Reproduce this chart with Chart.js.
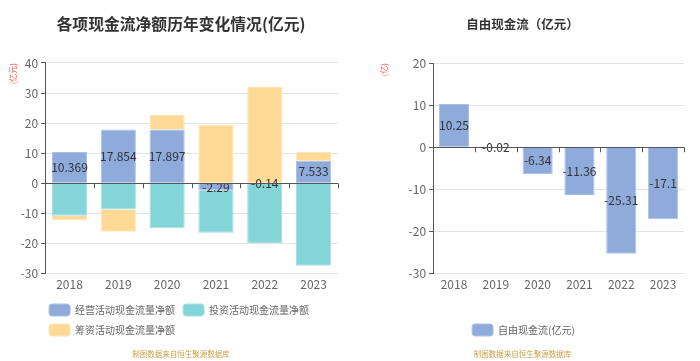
<!DOCTYPE html>
<html>
<head>
<meta charset="utf-8">
<script src="https://cdn.jsdelivr.net/npm/chart.js@4"></script>
<style>
  body { margin: 0; background: #fff; width: 700px; height: 361px; position: relative; overflow: hidden; }
  .box { position: absolute; top: 0; height: 361px; }
  #left { left: 0; width: 362px; }
  #right { left: 342px; width: 358px; }
</style>
</head>
<body>
<div class="box" id="left"><canvas id="c1"></canvas></div>
<div class="box" id="right"><canvas id="c2"></canvas></div>
<script>
const years = ['2018', '2019', '2020', '2021', '2022', '2023'];
const operating = [10.369, 17.854, 17.897, -2.29, -0.14, 7.533];
const investing = [-10.8, -8.7, -14.9, -14.1, -19.7, -27.4];
const financing = [-1.4, -7.4, 4.8, 19.5, 32.0, 3.0];
const freeCash = [10.25, -0.02, -6.34, -11.36, -25.31, -17.1];

const FONT = "'Noto Sans CJK SC', 'Noto Sans', sans-serif";
Chart.defaults.font.family = FONT;
Chart.defaults.color = '#666';
Chart.defaults.animation = false;

// value labels in the middle of bars
const barLabels = {
  id: 'barLabels',
  afterDatasetsDraw(chart, args, opts) {
    const ctx = chart.ctx;
    const meta = chart.getDatasetMeta(opts.dataset || 0);
    const data = chart.data.datasets[opts.dataset || 0].data;
    ctx.save();
    ctx.font = '12px ' + FONT;
    ctx.fillStyle = '#333';
    ctx.textAlign = 'center';
    ctx.textBaseline = 'middle';
    meta.data.forEach((bar, i) => {
      ctx.fillText(String(data[i]), bar.x, (bar.y + bar.base) / 2);
    });
    ctx.restore();
  }
};

// small ticks on the zero line between categories
const zeroTicks = {
  id: 'zeroTicks',
  afterDatasetsDraw(chart) {
    const x = chart.scales.x, y = chart.scales.y;
    const y0 = y.getPixelForValue(0);
    const half = (x.getPixelForValue(1) - x.getPixelForValue(0)) / 2;
    const ctx = chart.ctx;
    ctx.save();
    ctx.strokeStyle = '#555';
    ctx.lineWidth = 1;
    ctx.beginPath();
    ctx.moveTo(chart.chartArea.left, Math.round(y0) + 0.5);
    ctx.lineTo(chart.chartArea.right, Math.round(y0) + 0.5);
    for (let i = 1; i <= years.length; i++) {
      const px = Math.round(x.getPixelForValue(i - 1) + half) + 0.5;
      ctx.moveTo(px, y0);
      ctx.lineTo(px, y0 + 5);
    }
    ctx.stroke();
    ctx.restore();
  }
};

// nudge title / footer / legend sideways
const shiftBoxes = {
  id: 'shiftBoxes',
  afterLayout(chart, args, opts) {
    chart.boxes.forEach(b => {
      let dx = 0;
      if (b === chart.legend) dx = opts.legend || 0;
      else if (b.options && typeof b.options.text === 'string') dx = opts.text || 0;
      b.left += dx;
      b.right += dx;
    });
  }
};

function yScale(min, max, unit, outer, gap) {
  return {
    min, max,
    ticks: { stepSize: 10, font: { size: 12 }, color: '#666', padding: 3 },
    grid: {
      color: '#e3e3e3',
      tickColor: '#555',
      tickLength: 4
    },
    border: { display: true, color: '#555' },
    title: {
      display: true, text: unit, align: 'end', color: '#ff5555',
      font: { size: 8 }, padding: { top: outer, bottom: gap }
    }
  };
}

const xScale = {
  grid: { display: false, drawTicks: false },
  border: { display: false },
  ticks: { font: { size: 12 }, color: '#666', padding: 4 }
};

const footer = {
  display: true, position: 'bottom', text: '制图数据来自恒生聚源数据库',
  color: '#c9a24a', font: { size: 7.5 }, padding: { top: 4, bottom: 2 }
};

const legendLabels = {
  boxWidth: 21, boxHeight: 12, useBorderRadius: true, borderRadius: 3,
  font: { size: 10 }, color: '#666', padding: 8
};

new Chart(document.getElementById('c1'), {
  type: 'bar',
  data: {
    labels: years,
    datasets: [
      { label: '经营活动现金流量净额', data: operating, backgroundColor: '#8eabdc', borderColor: '#a9c0e6', borderWidth: 1 },
      { label: '投资活动现金流量净额', data: investing, backgroundColor: '#84d5d7', borderColor: '#a3e0e1', borderWidth: 1 },
      { label: '筹资活动现金流量净额', data: financing, backgroundColor: '#ffd995', borderColor: '#ffe4b3', borderWidth: 1 }
    ]
  },
  options: {
    responsive: true,
    maintainAspectRatio: false,
    layout: { padding: { left: 8, right: 24, bottom: 0 } },
    scales: { x: Object.assign({ stacked: true }, xScale), y: Object.assign({ stacked: true }, yScale(-30, 40, '(亿元)', 0, 0)) },
    plugins: {
      title: {
        display: true, text: '各项现金流净额历年变化情况(亿元)', color: '#333',
        font: { size: 15.8, weight: 'bold' }, padding: { top: 15, bottom: 29 }
      },
      subtitle: footer,
      legend: { position: 'bottom', align: 'start', fullSize: false, labels: legendLabels },
      tooltip: { enabled: false },
      barLabels: { dataset: 0 },
      shiftBoxes: { legend: -4, text: 8 }
    }
  },
  plugins: [barLabels, zeroTicks, shiftBoxes]
});

new Chart(document.getElementById('c2'), {
  type: 'bar',
  data: {
    labels: years,
    datasets: [
      { label: '自由现金流(亿元)', data: freeCash, backgroundColor: '#8eabdc', borderColor: '#a9c0e6', borderWidth: 1 }
    ]
  },
  options: {
    responsive: true,
    maintainAspectRatio: false,
    layout: { padding: { left: 37, right: 16, bottom: 0 } },
    scales: {
      x: Object.assign({ afterFit: s => { s.height += 20; } }, xScale),
      y: yScale(-30, 20, '(亿)', 0, 17)
    },
    plugins: {
      title: {
        display: true, text: '自由现金流（亿元）', color: '#333',
        font: { size: 12.5, weight: 'bold' }, padding: { top: 17, bottom: 31 }
      },
      subtitle: footer,
      legend: { position: 'bottom', labels: legendLabels },
      tooltip: { enabled: false },
      barLabels: { dataset: 0 },
      shiftBoxes: { legend: -8, text: -9 }
    }
  },
  plugins: [barLabels, zeroTicks, shiftBoxes]
});
</script>
</body>
</html>
